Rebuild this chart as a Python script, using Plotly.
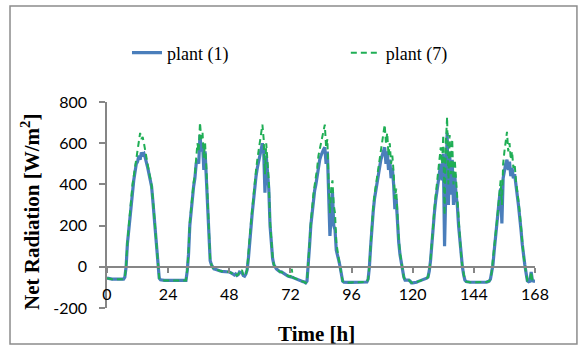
import plotly.graph_objects as go

# ---- data: net radiation [W/m2] every 0.5 h, one list per day ----
p1_day1 = [-55, -57, -58, -58, -60, -60, -60, -61, -60, -61, -62, -62,
           -62, -60, -50, 0, 110, 180, 250, 320, 380, 420, 460, 500,
           510, 540, 520, 555, 545, 550, 530, 510, 480, 450, 420, 390,
           320, 250, 170, 80, 0, -55, -63, -65, -65, -66, -66, -66]
p1_day2 = [-66, -66, -67, -67, -66, -67, -67, -68, -68, -68, -67, -68,
           -68, -68, -66, -20, 60, 200, 270, 340, 390, 430, 500, 520,
           500, 640, 560, 600, 470, 560, 430, 300, 130, 30, 10, -5,
           -10, -12, -15, -18, -20, -20, -22, -22, -22, -25, -23, -25]
p1_day3 = [-25, -28, -30, -35, -40, -35, -42, -38, -25, -28, -30, -42,
           -45, -35, -15, 40, 130, 200, 260, 320, 400, 440, 480, 510,
           550, 580, 600, 560, 360, 540, 450, 380, 200, 100, 40, 10,
           -5, -10, -15, -20, -25, -25, -30, -32, -38, -40, -45, -47]
p1_day4 = [-48, -50, -52, -55, -58, -60, -62, -65, -68, -70, -72, -74,
           -78, -70, -5, 100, 200, 270, 330, 370, 400, 450, 500, 520,
           540, 560, 570, 580, 500, 560, 300, 150, 250, 360, 200, 180,
           80, 60, 30, 0, -40, -70, -75, -76, -76, -76, -76, -76]
p1_day5 = [-76, -76, -76, -76, -76, -76, -76, -76, -76, -76, -75, -75,
           -74, -60, 0, 100, 200, 270, 330, 370, 400, 450, 490, 520,
           540, 560, 580, 500, 560, 470, 520, 430, 480, 400, 280, 330,
           200, 120, 60, 20, 0, -50, -65, -65, -66, -65, -70, -78]
p1_day6 = [-78, -78, -76, -75, -72, -70, -68, -65, -62, -60, -58, -55,
           -50, -20, 30, 120, 200, 260, 320, 370, 400, 450, 500, 420,
           550, 100, 480, 650, 300, 560, 350, 520, 300, 450, 350, 300,
           200, 120, 50, 0, -40, -65, -72, -74, -75, -75, -75, -75]
p1_day7 = [-75, -75, -76, -76, -76, -76, -75, -75, -75, -74, -74, -72,
           -70, -60, -30, 10, 80, 150, 200, 260, 330, 380, 210, 430,
           480, 500, 520, 470, 510, 440, 480, 430, 450, 380, 350, 300,
           250, 180, 110, 50, 10, -30, -68, -72, -70, -25, -68, -70,
           -70]

p7_day1 = [-55, -57, -58, -58, -60, -60, -60, -61, -60, -61, -62, -62,
           -62, -60, -50, 5, 120, 195, 265, 335, 400, 440, 480, 530,
           560, 600, 650, 620, 630, 600, 560, 520, 490, 460, 430, 395,
           330, 255, 175, 85, 0, -55, -63, -65, -65, -66, -66, -66]
p7_day2 = [-66, -66, -67, -67, -66, -67, -67, -68, -68, -68, -67, -68,
           -68, -68, -66, -15, 70, 215, 285, 360, 410, 450, 530, 600,
           560, 700, 620, 650, 530, 600, 480, 320, 140, 35, 10, -5,
           -10, -12, -15, -18, -20, -20, -22, -22, -22, -25, -23, -25]
p7_day3 = [-25, -28, -30, -35, -40, -35, -42, -38, -25, -28, -15, -42,
           -45, -35, -15, 45, 140, 215, 280, 345, 430, 470, 520, 560,
           600, 650, 690, 620, 450, 600, 520, 420, 220, 110, 45, 10,
           -5, -10, -15, -20, -25, -25, -30, -32, -38, -40, -45, -47]
p7_day4 = [-48, -10, -52, -55, -58, -60, -62, -65, -68, -70, -72, -74,
           -78, -70, 0, 110, 215, 290, 350, 395, 430, 480, 540, 570,
           600, 640, 660, 690, 580, 620, 400, 260, 380, 420, 300, 260,
           120, 70, 35, 0, -40, -70, -75, -76, -76, -76, -76, -76]
p7_day5 = [-76, -76, -76, -76, -76, -76, -76, -76, -76, -76, -75, -75,
           -74, -60, 5, 110, 215, 290, 350, 395, 430, 480, 530, 570,
           620, 660, 690, 600, 650, 540, 600, 500, 540, 460, 330, 380,
           240, 140, 70, 25, 0, -50, -65, -65, -66, -65, -70, -78]
p7_day6 = [-78, -78, -76, -75, -72, -70, -68, -65, -62, -60, -58, -55,
           -50, -20, 35, 130, 215, 280, 345, 400, 440, 500, 580, 500,
           640, 250, 600, 727, 400, 640, 450, 620, 400, 520, 420, 340,
           230, 130, 55, 0, -40, -65, -72, -74, -75, -75, -75, -75]
p7_day7 = [-75, -75, -76, -76, -76, -76, -75, -75, -75, -74, -74, -72,
           -70, -60, -25, 40, 90, 165, 215, 280, 360, 420, 300, 500,
           560, 600, 655, 560, 600, 520, 560, 480, 500, 420, 380, 320,
           265, 190, 115, 55, 10, -30, -68, -72, -70, -25, -68, -70,
           -70]

x_ticks = [0, 24, 48, 72, 96, 120, 144, 168]
y_ticks = [-200, 0, 200, 400, 600, 800]
y_tick_text = ["-200", "0", "200", "400", "600", "800"]
series_names = ["plant (1)", "plant (7)"]

plant1 = p1_day1 + p1_day2 + p1_day3 + p1_day4 + p1_day5 + p1_day6 + p1_day7
plant7 = p7_day1 + p7_day2 + p7_day3 + p7_day4 + p7_day5 + p7_day6 + p7_day7
time1 = [i * 0.5 for i in range(len(plant1))]
time7 = [i * 0.5 for i in range(len(plant7))]

SERIF = "Liberation Serif, Times New Roman, serif"
SANS = "Lato, Calibri, sans-serif"
AX = "#868686"

fig = go.Figure()
fig.add_trace(go.Scatter(x=time1, y=plant1, mode="lines", name=series_names[0],
                         legend="legend",
                         line=dict(color="#4A7EBB", width=3.2)))
fig.add_trace(go.Scatter(x=time7, y=plant7, mode="lines", name=series_names[1],
                         legend="legend2",
                         line=dict(color="#1FAE55", width=2, dash="6px,4px")))

legend_common = dict(orientation="h", yanchor="middle", xanchor="left",
                     font=dict(family=SERIF, size=18, color="black"),
                     bgcolor="rgba(0,0,0,0)")

fig.update_layout(
    template="none",
    width=583, height=349,
    margin=dict(l=107, r=48, t=102, b=41, autoexpand=False),
    paper_bgcolor="white", plot_bgcolor="white",
    showlegend=True,
    legend=dict(x=0.0467, y=1.238, **legend_common),
    legend2=dict(x=0.558, y=1.238, **legend_common),
    xaxis=dict(range=[0, 168], tickvals=x_ticks, ticktext=[str(v) for v in x_ticks],
               anchor="free", position=0.2, showline=True, linecolor=AX, linewidth=1.5,
               ticks="outside", ticklen=5, tickcolor=AX, tickwidth=1.5,
               showgrid=False, zeroline=False, ticklabelstandoff=8, automargin=False,
               tickfont=dict(family=SANS, size=16, color="black")),
    yaxis=dict(range=[-200, 800], tickvals=y_ticks, ticktext=y_tick_text, domain=[0, 1],
               showline=True, linecolor=AX, linewidth=1.5,
               ticks="outside", ticklen=6, tickcolor=AX, tickwidth=1.5,
               showgrid=False, zeroline=False, ticklabelstandoff=9, automargin=False,
               tickfont=dict(family=SANS, size=16, color="black")),
    shapes=[dict(type="rect", xref="paper", yref="paper",
                 x0=-0.2266, x1=1.098, y0=-0.175, y1=1.466,
                 line=dict(color="#8C8C8C", width=1.5), fillcolor="rgba(0,0,0,0)",
                 layer="below")],
    annotations=[
        dict(text="<b>Net Radiation [W/m<sup>2</sup>]</b>", xref="paper", yref="paper",
             x=-0.18, y=0.466, xanchor="center", yanchor="middle",
             textangle=-90, showarrow=False,
             font=dict(family=SERIF, size=21, color="black")),
        dict(text="<b>Time [h]</b>", xref="paper", yref="paper",
             x=0.49, y=-0.126, xanchor="center", yanchor="middle", showarrow=False,
             font=dict(family=SERIF, size=21, color="black")),
    ],
)

fig.write_html("out.html",
               config={"displayModeBar": False},
               post_script="document.body.style.margin='0';document.body.style.overflow='hidden';")
